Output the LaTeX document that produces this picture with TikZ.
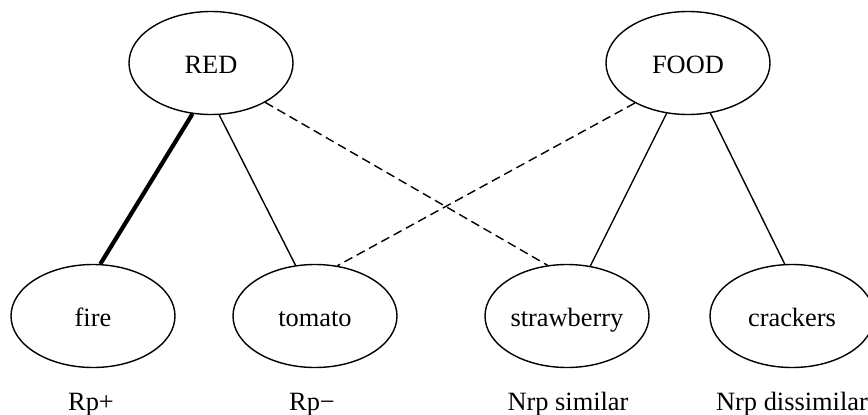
\documentclass[tikz,border=0pt]{standalone}
\usepackage{fontspec}
\setmainfont{Liberation Serif}
\usetikzlibrary{shapes.geometric}
\begin{document}
\begin{tikzpicture}[x=1pt,y=-1pt,
  ell/.style={ellipse,draw,line width=1.4pt,inner sep=0pt,minimum width=164pt,minimum height=103pt,
    font=\fontsize{26.4}{30}\selectfont,text height=20pt,text depth=0pt},
  lab/.style={anchor=base,font=\fontsize{26.4}{30}\selectfont,inner sep=0pt},
  thin/.style={line width=1.4pt},
  thick edge/.style={line width=4.2pt},
  dash edge/.style={line width=1.4pt,dash pattern=on 9pt off 5pt}]
\useasboundingbox (0,0) rectangle (868,415);
\node[ell] (red) at (211,63) {RED};
\node[ell] (food) at (688,63) {FOOD};
\node[ell] (fire) at (93,316) {fire};
\node[ell] (tomato) at (315,316) {tomato};
\node[ell] (straw) at (567,316) {strawberry};
\node[ell] (crack) at (792,316) {crackers};
\node[lab] (l1) at (91,410) {Rp+};
\node[lab] (l2) at (312,410) {Rp−};
\node[lab] (l3) at (568,410) {Nrp similar};
\node[lab] (l4) at (792,410) {Nrp dissimilar};
\draw[thick edge] (red.-110.8) -- (fire.82.5);
\draw[thin] (red.-81.3) -- (tomato.111.4);
\draw[dash edge] (red.-36.5) -- (straw.111.6);
\draw[dash edge] (food.-143.5) -- (tomato.66.1);
\draw[thin] (food.-113.3) -- (straw.65.2);
\draw[thin] (food.-66.7) -- (crack.98.6);
\end{tikzpicture}
\end{document}
